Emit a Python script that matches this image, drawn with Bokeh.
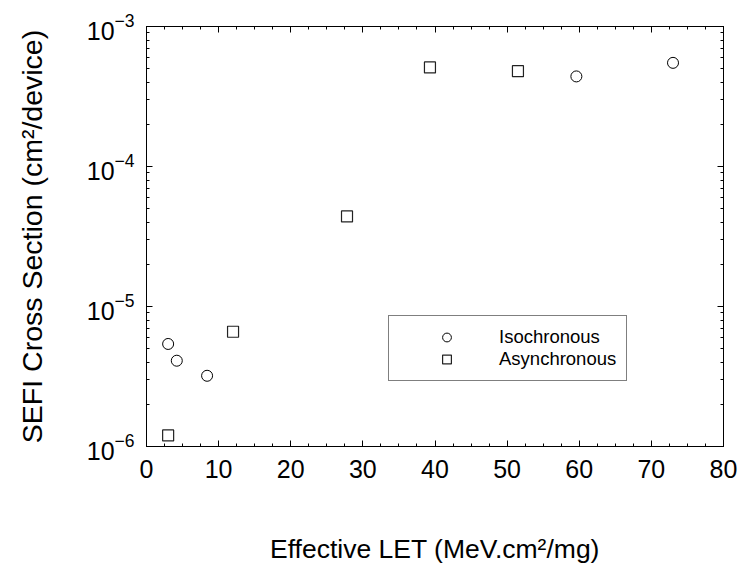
from bokeh.plotting import figure
from bokeh.models import (LinearAxis, LogAxis, FixedTicker, Legend, LegendItem,
                          CustomJSTickFormatter, Range1d)
from bokeh.embed import file_html
from bokeh.resources import INLINE

# ---- data ----
iso_let = [3.0, 4.2, 8.4, 59.6, 73.0]
iso_sigma = [5.4e-6, 4.1e-6, 3.2e-6, 4.4e-4, 5.5e-4]
asy_let = [3.0, 12.0, 27.8, 39.3, 51.5]
asy_sigma = [1.2e-6, 6.6e-6, 4.4e-5, 5.1e-4, 4.8e-4]
series_names = ["Isochronous", "Asynchronous"]
x_ticks = [0, 10, 20, 30, 40, 50, 60, 70, 80]
x_minor = [i * 2.5 for i in range(0, 33)]
y_ticks = [1e-6, 1e-5, 1e-4, 1e-3]
y_minor = [m * 10.0 ** k for k in range(-6, -3) for m in range(2, 10)]
x_label = "Effective LET (MeV.cm\u00b2/mg)"
y_label = "SEFI Cross Section (cm\u00b2/device)"

FONT = "Liberation Sans"

p = figure(width=741, height=573, y_axis_type="log",
           x_range=Range1d(0, 80), y_range=Range1d(1e-6, 1e-3),
           output_backend="svg", toolbar_location=None,
           min_border_left=146, min_border_right=18,
           min_border_top=26, min_border_bottom=127)
p.grid.visible = False
p.outline_line_color = "black"
p.outline_line_width = 1
p.background_fill_color = "white"
p.border_fill_color = "white"

xt = FixedTicker(ticks=x_ticks, minor_ticks=x_minor)
yt = FixedTicker(ticks=y_ticks, minor_ticks=y_minor)


def style(ax):
    ax.axis_line_color = "black"
    ax.major_tick_line_color = "black"
    ax.minor_tick_line_color = "black"
    ax.major_tick_in = 6
    ax.major_tick_out = 0
    ax.minor_tick_in = 3
    ax.minor_tick_out = 0
    ax.major_label_text_font = FONT
    ax.major_label_text_font_size = "25px"
    ax.major_label_text_color = "black"
    ax.axis_label_text_font = FONT
    ax.axis_label_text_font_size = "26px"
    ax.axis_label_text_font_style = "normal"
    ax.axis_label_text_color = "black"


xa = p.xaxis[0]
xa.ticker = xt
style(xa)
xa.axis_label = x_label
xa.axis_label_text_font_size = "26.5px"
xa.major_label_standoff = 13
xa.axis_label_standoff = 53

ya = p.yaxis[0]
ya.ticker = yt
style(ya)
ya.axis_label = y_label
ya.axis_label_text_font_size = "28.5px"
ya.major_label_standoff = 12
ya.axis_label_standoff = 36

blank = CustomJSTickFormatter(code="return ''")
top = LinearAxis(ticker=xt, formatter=blank)
style(top)
top.major_label_text_font_size = "1px"
p.add_layout(top, "above")
right = LogAxis(ticker=yt, formatter=blank)
style(right)
right.major_label_text_font_size = "1px"
p.add_layout(right, "right")

r1 = p.scatter(iso_let, iso_sigma, marker="circle", size=11,
               line_color="black", line_width=1, fill_color=None)
r2 = p.scatter(asy_let, asy_sigma, marker="square", size=11,
               line_color="#222222", line_width=1.2, fill_color=None)

legend = Legend(items=[LegendItem(label=series_names[0], renderers=[r1]),
                       LegendItem(label=series_names[1], renderers=[r2])],
                location=(242, 65), orientation="vertical",
                padding=10, spacing=0, margin=0,
                glyph_width=95, glyph_height=22, label_height=22,
                label_standoff=5,
                label_text_font=FONT, label_text_font_size="18.5px",
                label_text_color="black",
                border_line_color="black", border_line_width=1,
                background_fill_color="white", background_fill_alpha=1.0)
p.add_layout(legend, "center")

open("out.html", "w").write(file_html(p, INLINE))
